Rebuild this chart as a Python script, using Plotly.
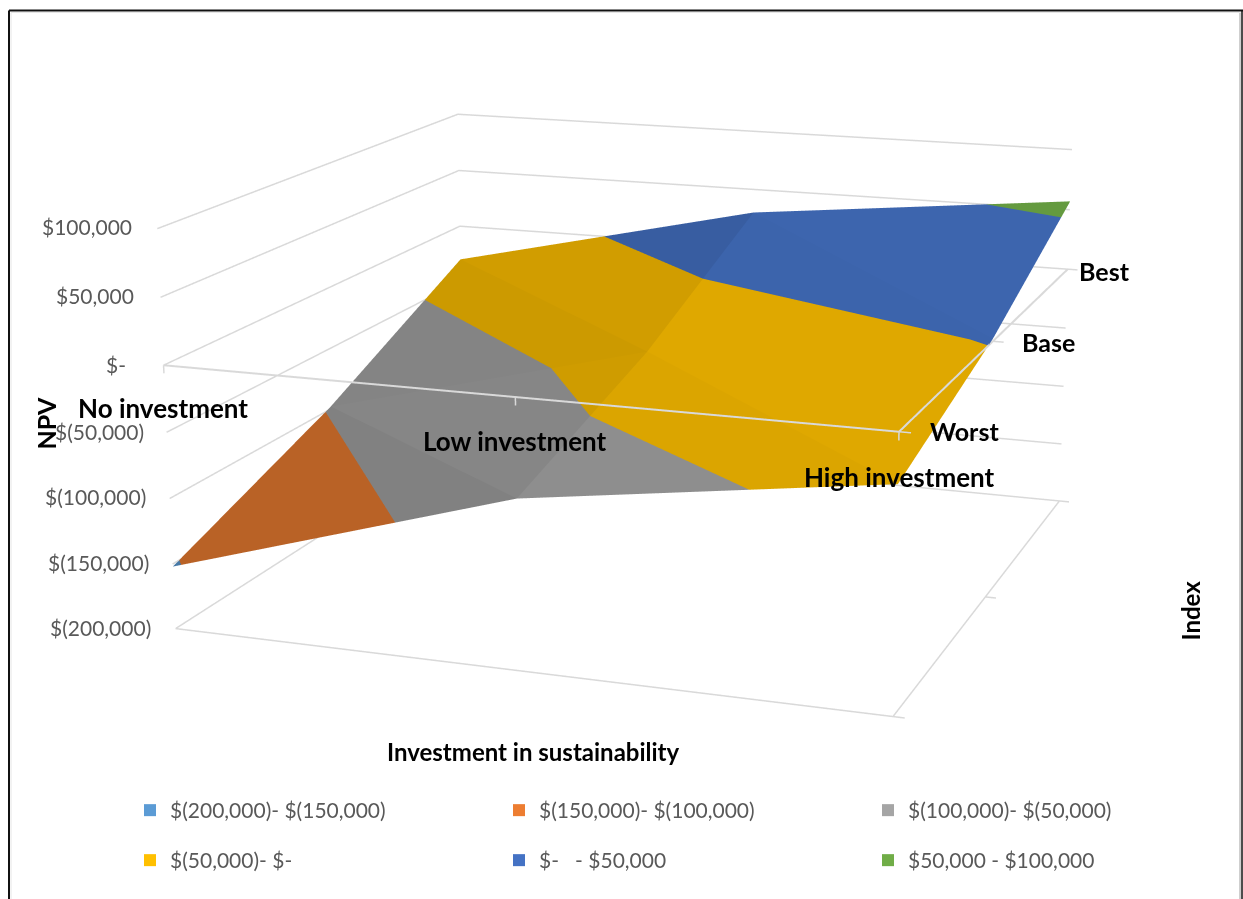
import numpy as np
import plotly.graph_objects as go

INVESTMENT = ["No investment", "Low investment", "High investment"]
SCENARIOS = ["Worst", "Base", "Best"]
NPV_WORST = [-152000, -73000, -36000]
NPV_BASE = [-98000, -30000, 2000]
NPV_BEST = [-30000, 30000, 57000]
Z_TICKS = [100000, 50000, 0, -50000, -100000, -150000, -200000]
Z_LABELS = ["$100,000", "$50,000", "$-", "$(50,000)", "$(100,000)", "$(150,000)", "$(200,000)"]
BANDS = [-200000, -150000, -100000, -50000, 0, 50000, 100000]
BAND_NAMES = ["$(200,000)- $(150,000)", "$(150,000)- $(100,000)", "$(100,000)- $(50,000)",
              "$(50,000)- $-", "$-   - $50,000", "$50,000 - $100,000"]
BAND_COLORS = ["#5B9BD5", "#ED7D31", "#A5A5A5", "#FFC000", "#4472C4", "#70AD47"]

# Page geometry: the scene's fixed field of view needs a tall canvas for this
# flat perspective, so the figure is larger than the window and offset upwards.
FIG_W, FIG_H = 1337, 2427
TOP_OFFSET = 802.5
WINDOW_H = 899

X_RANGE = [-0.1, 2.1]
Y_RANGE = [-0.1, 2.1]
Z_RANGE = [-220000, 120000]
EYE = dict(x=1.2428, y=-3.4601, z=0.93486)
CENTER = dict(x=0.059733, y=-0.087451, z=-0.019516)
UP = dict(x=-0.0057884, y=0.011514, z=1)
ASPECT = dict(x=1, y=0.98599, z=0.56624)

GRID = "#D9D9D9"
GRAY = "#595959"

npv = np.array([NPV_WORST, NPV_BASE, NPV_BEST], float)

# Each surface cell is split into two triangles, each with its own brightness.
FACETS = [((0, 0), (1, 0), (0, 1), .78), ((1, 0), (1, 1), (0, 1), .81),
          ((0, 1), (1, 1), (0, 2), .80), ((1, 1), (1, 2), (0, 2), .82),
          ((1, 0), (2, 0), (1, 1), .86), ((2, 0), (2, 1), (1, 1), .875),
          ((1, 1), (2, 1), (1, 2), .875), ((2, 1), (2, 2), (1, 2), .89)]


def clip(poly, level, keep_above):
    """Clip a polygon against a horizontal plane z = level."""
    out = []
    for a, b in zip(poly, poly[1:] + poly[:1]):
        ia = (a[2] >= level) if keep_above else (a[2] <= level)
        ib = (b[2] >= level) if keep_above else (b[2] <= level)
        if ia:
            out.append(a)
        if ia != ib:
            s = (level - a[2]) / (b[2] - a[2])
            out.append(tuple(a[k] + s * (b[k] - a[k]) for k in range(3)))
    return out


def shade(hex_color, s):
    return "rgb(%d,%d,%d)" % tuple(round(int(hex_color[i:i + 2], 16) * s) for i in (1, 3, 5))


vx, vy, vz, ii, jj, kk, face_colors = [], [], [], [], [], [], []
for p, q, r, s in FACETS:
    tri = [(v[0], v[1], npv[v[1], v[0]]) for v in (p, q, r)]
    for b in range(len(BAND_COLORS)):
        poly = clip(clip(tri, BANDS[b], True), BANDS[b + 1], False)
        if len(poly) < 3:
            continue
        base = len(vx)
        for a in poly:
            vx.append(a[0]); vy.append(a[1]); vz.append(a[2])
        for n in range(1, len(poly) - 1):
            ii.append(base); jj.append(base + n); kk.append(base + n + 1)
            face_colors.append(shade(BAND_COLORS[b], s))

fig = go.Figure()
fig.add_trace(go.Mesh3d(x=vx, y=vy, z=vz, i=ii, j=jj, k=kk, facecolor=face_colors, flatshading=True,
                        lighting=dict(ambient=1, diffuse=0, specular=0, roughness=1, fresnel=0),
                        hoverinfo="skip", showscale=False, showlegend=False))


def seg(xs, ys, zs, width=3):
    fig.add_trace(go.Scatter3d(x=xs, y=ys, z=zs, mode="lines", line=dict(color=GRID, width=width),
                               hoverinfo="skip", showlegend=False))


# Wall gridlines, floor outline, the zero-level axes and their tick marks.
for z in Z_TICKS:
    seg([0, 0, 2], [0, 2, 2], [z, z, z])
seg([0, 2, 2], [0, 0, 2], [-200000] * 3)
seg([0, 2, 2], [0, 0, 2], [0] * 3, width=4)
for x in (0, 1, 2):
    seg([x, x], [0, 0], [0, -6000], width=3)
for y in (0, 1, 2):
    seg([2, 2.03], [y, y], [0, 0], width=3)
    seg([2, 2.03], [y, y], [-200000, -200000], width=3)

for i, (name, color) in enumerate(zip(BAND_NAMES, BAND_COLORS)):
    fig.add_trace(go.Scatter(x=[None], y=[None], mode="markers", name=name,
                             legend="legend" if i < 3 else "legend2",
                             marker=dict(symbol="square", size=12, color=color)))


def px(x):
    return x / FIG_W


def py(y):
    return 1 - (y + TOP_OFFSET) / FIG_H


ann = []
for lab, rx, yy in zip(Z_LABELS, [134, 136, 128, 146, 148, 151, 153], [226, 295, 364, 431, 496, 562, 627]):
    ann.append(dict(text=lab, x=px(rx), y=py(yy), xanchor="right", yanchor="middle",
                    font=dict(family="Lato", size=21, color=GRAY)))
for lab, (cx, cy) in zip(INVESTMENT, [(163, 408), (515, 440), (900, 476)]):
    ann.append(dict(text="<b>%s</b>" % lab, x=px(cx), y=py(cy), xanchor="center", yanchor="middle",
                    font=dict(family="Lato", size=26, color="#000000")))
for lab, (cx, cy) in zip(SCENARIOS, [(964, 431), (1048, 341), (1104, 270)]):
    ann.append(dict(text="<b>%s</b>" % lab, x=px(cx), y=py(cy), xanchor="center", yanchor="middle",
                    font=dict(family="Lato", size=25, color="#000000")))
ann.append(dict(text="<b>NPV</b>", x=px(45), y=py(423), textangle=-90, xanchor="center", yanchor="middle",
                font=dict(family="Lato", size=25, color="#000000")))
ann.append(dict(text="<b>Index</b>", x=px(1190), y=py(610), textangle=-90, xanchor="center", yanchor="middle",
                font=dict(family="Lato", size=24, color="#000000")))
ann.append(dict(text="<b>Investment in sustainability</b>", x=px(533), y=py(751), xanchor="center", yanchor="middle",
                font=dict(family="Lato", size=24, color="#000000")))
for a in ann:
    a.update(xref="paper", yref="paper", showarrow=False)


def line(x0, y0, x1, y1, color, width):
    return dict(type="line", xref="paper", yref="paper", x0=px(x0), y0=py(y0), x1=px(x1), y1=py(y1),
                line=dict(color=color, width=width))


shapes = [line(9, 10, 1243, 10, "#111111", 2), line(9, 10, 9, 899, "#111111", 2),
          line(1242, 10, 1242, 899, "#111111", 1.5), line(1240, 12, 1240, 899, "#CFCFCF", 2),
          line(11, 12, 1239, 12, "#E6E6E6", 1), line(11, 12, 11, 899, "#E6E6E6", 1)]

legend_style = dict(orientation="h", entrywidth=324, entrywidthmode="pixels", xanchor="left", yanchor="middle",
                    x=px(130), bgcolor="rgba(0,0,0,0)", font=dict(family="Lato", size=21, color=GRAY))

fig.update_layout(width=FIG_W, height=FIG_H, margin=dict(l=0, r=0, t=0, b=0), paper_bgcolor="white",
                  showlegend=True, plot_bgcolor="rgba(0,0,0,0)",
                  xaxis=dict(visible=False), yaxis=dict(visible=False),
                  legend=dict(legend_style, y=py(810)), legend2=dict(legend_style, y=py(860)),
                  annotations=ann, shapes=shapes,
                  scene=dict(domain=dict(x=[0, 1], y=[0, 1]),
                             xaxis=dict(visible=False, range=X_RANGE),
                             yaxis=dict(visible=False, range=Y_RANGE),
                             zaxis=dict(visible=False, range=Z_RANGE),
                             aspectmode="manual", aspectratio=ASPECT,
                             camera=dict(eye=EYE, center=CENTER, up=UP)))

page_script = """
var gd = document.getElementById('{plot_id}');
document.documentElement.style.cssText = 'margin:0;overflow:hidden;height:%dpx';
document.body.style.cssText = 'margin:0;overflow:hidden;height:%dpx';
gd.style.marginTop = '-%spx';
""" % (WINDOW_H, WINDOW_H, TOP_OFFSET)
fig.write_html("out.html", post_script=page_script)
